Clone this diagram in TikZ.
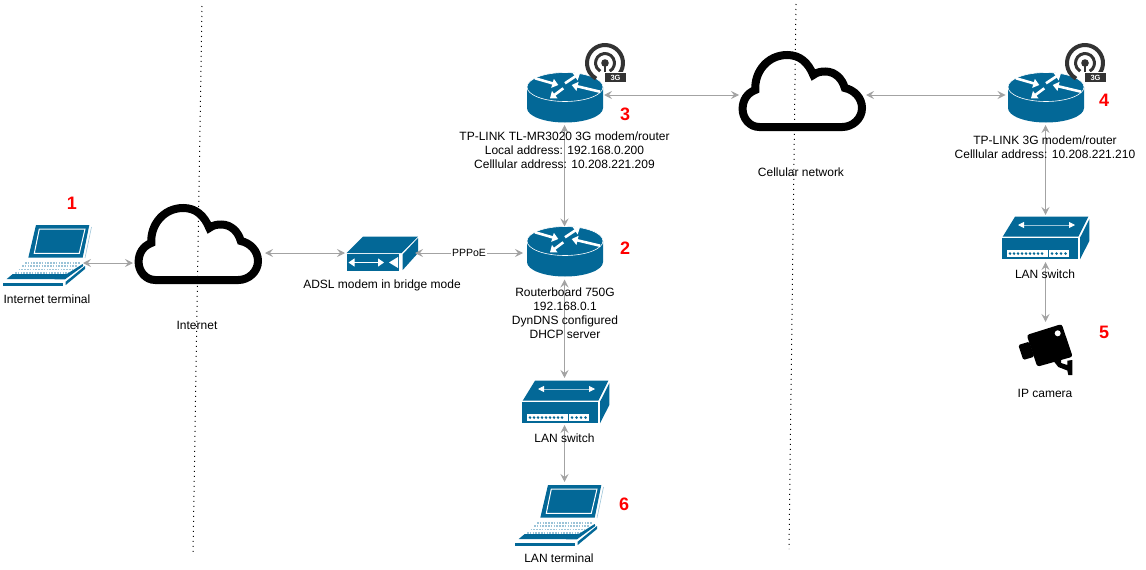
\documentclass[tikz,border=0pt]{standalone}
\usepackage{fontspec}
\setmainfont{Liberation Sans}
\usetikzlibrary{arrows.meta}
\definecolor{iconblue}{HTML}{036897}
\definecolor{linkgray}{HTML}{A3A3A3}
\definecolor{keypale}{HTML}{9CC4D8}
\definecolor{badgegray}{HTML}{333333}
\tikzset{
  anchorbox/.style={inner sep=0pt,outer sep=0pt,minimum width=#1},
  link/.style={draw=linkgray,line width=1pt,{Stealth[length=8pt,width=8pt,inset=3pt]}-{Stealth[length=8pt,width=8pt,inset=3pt]}},
  zone/.style={black,line width=1pt,dash pattern=on 1pt off 4pt},
  caption/.style={inner sep=0pt,align=center,font=\fontsize{12}{14}\selectfont},
  tag/.style={inner sep=0pt,text=red,font=\fontsize{18}{18}\selectfont\bfseries},
  cloudicon/.pic={
    \draw[black,line width=8pt,miter limit=10]
      (17,72) .. controls (7,72) and (0.3,63) .. (0.3,54)
      .. controls (0.3,45) and (5,38) .. (13,35)
      .. controls (12,17) and (25,0) .. (45,0)
      .. controls (58,0) and (66,8) .. (71,20)
      .. controls (75,17) and (79,16.5) .. (83,16.5)
      .. controls (93,16.5) and (100,24) .. (102.5,33)
      .. controls (112,35) and (119.7,43) .. (119.7,53)
      .. controls (119.7,64) and (110,72) .. (100,72) -- cycle;
  },
  routericon/.pic={
    \fill[iconblue] (-38,-8) -- (-38,13) arc[start angle=180,end angle=0,x radius=38,y radius=14.5] -- (38,-8) -- cycle;
    \draw[white,fill=iconblue,line width=0.6pt] (0,-8) ellipse[x radius=38,y radius=14.5];
    \foreach \ax/\ay/\bx/\by in {-30/-16.7/-6.7/-10,0/-11.7/15/-21.7,-1.7/-6.7/-15/3.3,35/-3.3/6.7/-10}
      \draw[white,line width=2.6pt,-{Triangle[length=6pt,width=9pt]}] (\ax,\ay) -- (\bx,\by);
  },
  badgeicon/.pic={
    \draw[badgegray,line width=4pt] (60:18) arc[start angle=60,end angle=-240,radius=18];
    \draw[badgegray,line width=3pt] (60:9.5) arc[start angle=60,end angle=-240,radius=9.5];
    \fill[badgegray] (0,0) circle[radius=3.8];
    \draw[badgegray,line width=1.6pt] (0,0) -- (0,11);
    \fill[badgegray,draw=white,line width=1pt] (-0.5,9.5) rectangle (21.5,19.5);
    \node[inner sep=0pt,text=white,font=\fontsize{7.5}{8}\selectfont\bfseries] at (10.5,14.5) {3G};
  },
  laptopicon/.pic={
    \fill[iconblue] (25.3,32.7) -- (33,0) -- (86.3,0) -- (79.7,32.7) -- cycle;
    \draw[white,line width=1pt] (31.3,28.3) -- (36.3,4) -- (82,4) -- (76.3,28.3) -- cycle;
    \draw[keypale,line width=0.6pt] (88.5,2) -- (82,33);
    \foreach \ky/\kx/\kz in {37.7/22/77,41/19/74,44.3/15.5/70,47.7/12/66}
      \draw[keypale,line width=1.6pt,dash pattern=on 1.6pt off 1.2pt] (\kx,\ky) -- (\kz,\ky);
    \fill[iconblue] (3.7,54) -- (9.7,49) -- (63.7,49) -- (79.7,39) -- (80.3,41) -- (62,54.3) -- cycle;
    \fill[iconblue] (0.3,57.7) rectangle (60.3,61.3);
    \fill[iconblue] (62.7,56.7) -- (82,41) -- (82,44) -- (62.7,60) -- cycle;
  },
  modemicon/.pic={
    \fill[iconblue] (346.7,253) -- (363,236.7) -- (418,236.7) -- (401.7,253) -- cycle;
    \fill[iconblue] (402.7,254.3) -- (418,238) -- (418,253) -- (402.7,270) -- cycle;
    \fill[iconblue] (346.7,254.3) rectangle (399,270.7);
    \draw[white,line width=1pt,{Triangle[length=6pt,width=8pt]}-{Triangle[length=6pt,width=8pt]}] (348.5,262.5) -- (384,262.5);
    \fill[white] (398,257) -- (398,268) -- (389,262.5) -- cycle;
  },
  switchicon/.pic={
    \fill[iconblue] (-42.8,-0.8) -- (-30.5,-20.8) -- (42.8,-20.8) -- (32.8,-0.8) -- cycle;
    \fill[iconblue] (34.5,0.2) -- (43.8,-18.2) -- (43.8,3.5) -- (34.5,21.8) -- cycle;
    \fill[iconblue] (-43.8,0.2) rectangle (32.8,21.8);
    \draw[keypale,line width=0.8pt,{Triangle[length=6pt,width=6pt,white]}-{Triangle[length=6pt,width=6pt,white]}] (-27.5,-12.5) -- (29.5,-12.5);
    \fill[white] (-38.8,12.8) rectangle (23.8,19.5);
    \draw[iconblue,line width=0.7pt] (2.8,12.8) -- (2.8,19.5);
    \foreach \px in {-35.5,-31.5,-27.5,-23.5,-19.5,-15.5,-11.5,-7.5,-3.5,6.5,11,15.5,20}
      \fill[iconblue] (\px,16.1) circle[radius=1.4];
  },
  cameraicon/.pic={
    \fill[black,rounded corners=2.5pt] (-18.3,-10) -- (16.7,-21) -- (27.7,11.7) -- (-7.7,21.7) -- cycle;
    \fill[black,rounded corners=1.5pt] (-26.7,0) -- (-15.7,-3.3) -- (-10.7,11.7) -- (-21.7,15) -- cycle;
    \fill[white] (12.7,-11.7) circle[radius=3];
    \fill[black] (8.5,16) -- (16,13) -- (16,18) -- (22.3,20) -- (22.3,15.7) -- (27.3,15) -- (27.3,30) -- (23.3,30) -- (22.3,25.5) -- (13.3,22) -- cycle;
  },
}
\begin{document}
\begin{tikzpicture}[x=1pt,y=-1pt]
  \useasboundingbox (0,0) rectangle (1146,570);
  % Zones
  \coordinate (zoneAtop) at (202,6);
  \coordinate (zoneAbot) at (193,553);
  \coordinate (zoneBtop) at (796,4);
  \coordinate (zoneBbot) at (789,549);
  \draw[zone] (zoneAtop) -- (zoneAbot);
  \draw[zone] (zoneBtop) -- (zoneBbot);
  % Node: anchors of the icons
  \node[anchorbox=72pt,minimum height=40pt] (termA) at (47,263) {};
  \node[anchorbox=132pt,minimum height=80pt] (cloudA) at (199,253) {};
  \node[anchorbox=70pt,minimum height=34pt] (modem) at (380,253) {};
  \node[anchorbox=83pt,minimum height=53pt] (routerB) at (564.5,253) {};
  \node[anchorbox=79pt,minimum height=60pt] (routerC) at (564.5,95) {};
  \node[anchorbox=127pt,minimum height=80pt] (cloudB) at (802.5,95) {};
  \node[anchorbox=80pt,minimum height=60pt] (routerD) at (1045.5,95) {};
  \node[anchorbox=88pt,minimum height=47pt] (switchA) at (564.5,401.5) {};
  \node[anchorbox=88pt,minimum height=47pt] (switchB) at (1045.5,238.5) {};
  \node[anchorbox=90pt,minimum height=36pt] (termB) at (564.5,500) {};
  \node[anchorbox=60pt,minimum height=46pt] (camera) at (1045.5,345) {};
  % Node: icons
  \pic at (3,225) {laptopicon};
  \pic at (515,485) {laptopicon};
  \pic at (138.3,208) {cloudicon};
  \pic at (742.3,55) {cloudicon};
  \pic at (0,0) {modemicon};
  \pic at (565,249) {routericon};
  \pic at (565,95) {routericon};
  \pic at (1046,95) {routericon};
  \pic at (605,63) {badgeicon};
  \pic at (1085,63) {badgeicon};
  \pic at (565.5,401.5) {switchicon};
  \pic at (1045.5,237.5) {switchicon};
  \pic at (1045,345) {cameraicon};
  % Edge: terminal -> internet
  \draw[link] (termA.east) -- (termA.east -| cloudA.west);
  % Edge: internet -> modem
  \draw[link] (cloudA.east) -- (modem.west);
  % Edge: modem -> router
  \draw[link] (modem.east) -- node[caption,fill=white,inner xsep=1pt,inner ysep=1pt,font=\fontsize{10.5}{14}\selectfont] (pppoe) {PPPoE} (routerB.west);
  % Edge: router -> 3G router
  \draw[link] (routerB.north) -- (routerC.south);
  % Edge: 3G router -> cellular
  \draw[link] (routerC.east) -- (cloudB.west);
  % Edge: cellular -> far 3G router
  \draw[link] (cloudB.east) -- (routerD.west);
  % Edge: far 3G router -> far switch
  \draw[link] (routerD.south) -- (switchB.north);
  % Edge: far switch -> camera
  \draw[link] (switchB.south) -- (camera.north);
  % Edge: router -> switch
  \draw[link] (routerB.south) -- (switchA.north);
  % Edge: switch -> LAN terminal
  \draw[link] (switchA.south) -- (termB.north);
  % Node: captions
  \node[caption] (termAtext) at (47,299) {Internet terminal};
  \node[caption] (cloudAtext) at (197,325) {Internet};
  \node[caption] (modemtext) at (382,285) {ADSL modem in bridge mode};
  \node[caption] (routerBtext) at (565,313) {Routerboard 750G\\192.168.0.1\\DynDNS configured\\DHCP server};
  \node[caption] (routerCtext) at (564.5,150) {TP-LINK TL-MR3020 3G modem/router\\Local address: 192.168.0.200\\Celllular address: 10.208.221.209};
  \node[caption] (cloudBtext) at (801,172) {Cellular network};
  \node[caption] (routerDtext) at (1045,147) {TP-LINK 3G modem/router\\Celllular address: 10.208.221.210};
  \node[caption] (switchAtext) at (564.5,438) {LAN switch};
  \node[caption] (switchBtext) at (1045,274) {LAN switch};
  \node[caption] (termBtext) at (559,558) {LAN terminal};
  \node[caption] (cameratext) at (1045,393) {IP camera};
  % Node: numbers
  \node[tag] (tagA) at (72,203) {1};
  \node[tag] (tagB) at (625,248) {2};
  \node[tag] (tagC) at (625,114) {3};
  \node[tag] (tagD) at (1104,100) {4};
  \node[tag] (tagE) at (1104,332) {5};
  \node[tag] (tagF) at (624,504) {6};
\end{tikzpicture}
\end{document}
